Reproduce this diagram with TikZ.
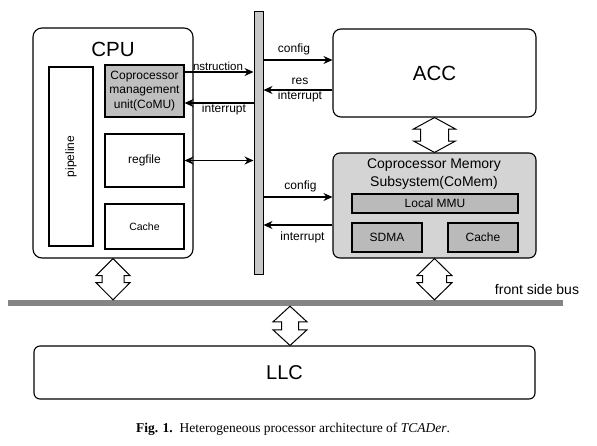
\documentclass[tikz,border=0pt]{standalone}
\usepackage{fontspec}
\setmainfont{Liberation Sans}
\newfontfamily\capfont{Liberation Serif}
\usetikzlibrary{arrows.meta,calc}

\begin{document}
\begin{tikzpicture}[x=1pt,y=-1pt,
    box/.style={draw,line width=1.1pt,inner sep=0pt,align=center,
      font=\fontsize{12}{14.5}\selectfont},
    outer/.style={box,rounded corners=9pt},
    unit/.style={box,fill=black!25},
    sig/.style={line width=1.3pt,-{Stealth[length=9pt,width=8pt]}},
    dsig/.style={line width=1.3pt,{Stealth[length=9pt,width=8pt]}-{Stealth[length=9pt,width=8pt]}},
    blk/.style={draw,fill=white,line width=1pt,line join=miter},
    lbl/.style={inner sep=0pt,align=center,font=\fontsize{12}{15}\selectfont}]
  \useasboundingbox (0,0) rectangle (597,445);
  % CPU
  \node[outer,minimum width=160pt,minimum height=230pt] (cpu) at (113,143) {};
  \node[lbl,font=\fontsize{20.5}{24}\selectfont] (cputxt) at (113,49) {CPU};
  \node[box,minimum width=44pt,minimum height=179pt] (pipe) at (71,156.5) {};
  \node[lbl,rotate=90] (pipetxt) at (pipe.center) {pipeline};
  \node[unit,minimum width=79pt,minimum height=52pt] (comu) at (144.5,91)
    {Coprocessor\\management\\unit(CoMU)};
  \node[box,minimum width=79pt,minimum height=53pt] (regfile) at (144.5,160.5) {regfile};
  \node[box,minimum width=79pt,minimum height=45pt,font=\fontsize{10.5}{12}\selectfont]
    (cpucache) at (144.5,226.5) {Cache};
  % system bus
  \node[draw,fill=black!22,line width=1pt,inner sep=0pt,minimum width=9pt,
    minimum height=263pt] (bus) at (258.5,142.5) {};
  % ACC and CoMem
  \node[outer,rounded corners=8pt,minimum width=203pt,minimum height=88pt,
    font=\fontsize{20.5}{24}\selectfont] (acc) at (434.5,73) {ACC};
  \node[outer,rounded corners=7pt,fill=black!17,minimum width=203pt,
    minimum height=105pt] (comem) at (434.5,205.5) {};
  \node[lbl,font=\fontsize{14}{18}\selectfont] (comemtxt) at (434,174)
    {Coprocessor Memory\\Subsystem(CoMem)};
  \node[unit,fill=black!27,minimum width=166pt,minimum height=19pt] (mmu) at (435,203.5) {Local MMU};
  \node[unit,fill=black!27,minimum width=70pt,minimum height=29pt] (sdma) at (387,237.5) {SDMA};
  \node[unit,fill=black!27,minimum width=70pt,minimum height=29pt] (memcache) at (483,237.5) {Cache};
  % front side bus and LLC
  \node[fill=black!48,inner sep=0pt,minimum width=555pt,minimum height=6pt] (fsb) at (285.5,303) {};
  \node[lbl,font=\fontsize{14}{16}\selectfont] (fsbtxt) at (537,289) {front side bus};
  \node[outer,rounded corners=6pt,minimum width=501pt,minimum height=53pt,
    font=\fontsize{20}{24}\selectfont] (llc) at (284.5,372.5) {LLC};

  % signal levels
  \coordinate (yins) at (0,72);
  \coordinate (yintc) at (0,103);
  \coordinate (yacfg) at (0,60);
  \coordinate (yares) at (0,90);
  \coordinate (ymcfg) at (0,197);
  \coordinate (ymint) at (0,225);
  \draw[sig] (comu.east |- yins) -- (bus.west |- yins);
  \draw[sig] (bus.west |- yintc) -- (comu.east |- yintc);
  \draw[dsig] (regfile.east) -- (bus.west |- regfile.east);
  \draw[sig] (bus.east |- yacfg) -- (acc.west |- yacfg);
  \draw[sig] (acc.west |- yares) -- (bus.east |- yares);
  \draw[sig] (bus.east |- ymcfg) -- (comem.west |- ymcfg);
  \draw[sig] (comem.west |- ymint) -- (bus.east |- ymint);
  \node[lbl,font=\fontsize{11.5}{13}\selectfont] (lins) at (218,66.5) {nstruction};
  \node[lbl] (lintc) at (224,109) {interrupt};
  \node[lbl] (lacfg) at (294,49) {config};
  \node[lbl] (lares) at (300,90.5) {res\\interrupt};
  \node[lbl] (lmcfg) at (300.5,186) {config};
  \node[lbl] (lmint) at (302.5,237) {interrupt};

  % block arrows
  \coordinate (cpudn) at (cpu.south |- fsb.north);
  \coordinate (memdn) at (comem.south |- fsb.north);
  \coordinate (llcup) at (290,0 |- fsb.south);
  \coordinate (llcdn) at (llcup |- llc.north);
  \foreach \a/\b/\w/\s/\h in {cpu.south/cpudn/17/11/3.5,acc.south/comem.north/21/14/6,
      comem.south/memdn/17.5/12/3.5,llcup/llcdn/17/8.5/4}
    \path[blk] let \p1=(\a), \p2=(\b), \n1={(\y1+\y2)/2} in
      (\x1,\y1) -- ({\x1+\w pt},{\n1+\h pt}) -- ({\x1+\s pt},{\n1+\h pt})
      -- ({\x1+\s pt},{\n1-\h pt}) -- ({\x1+\w pt},{\n1-\h pt}) -- (\x1,\y2)
      -- ({\x1-\w pt},{\n1-\h pt}) -- ({\x1-\s pt},{\n1-\h pt})
      -- ({\x1-\s pt},{\n1+\h pt}) -- ({\x1-\w pt},{\n1+\h pt}) -- cycle;

  \node[inner sep=0pt,anchor=base,font=\capfont\fontsize{13.5}{16}\selectfont] (cap)
    at (293,432.5) {\textbf{Fig. 1.}\enspace Heterogeneous processor architecture of \textit{TCADer}.};
\end{tikzpicture}
\end{document}
